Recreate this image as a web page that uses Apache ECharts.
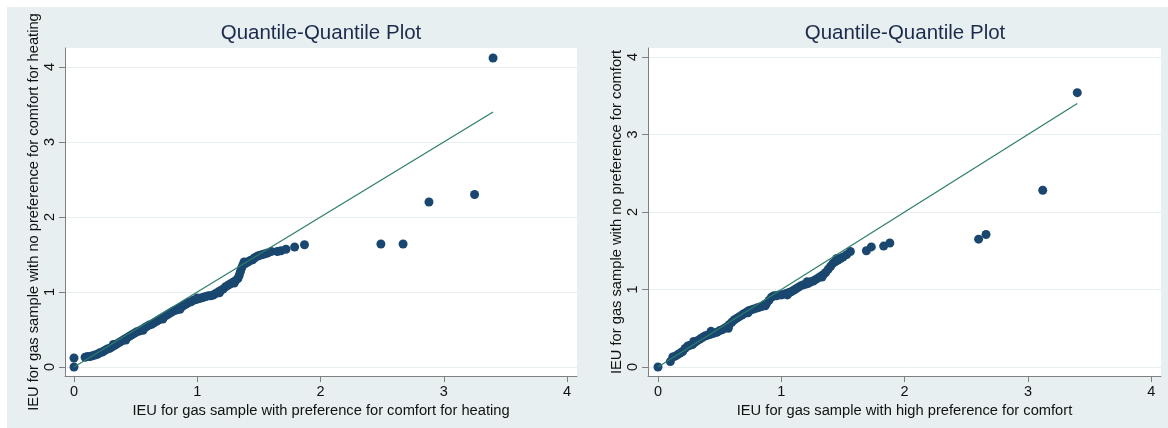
<!DOCTYPE html>
<html><head><meta charset="utf-8">
<script src="https://cdn.jsdelivr.net/npm/echarts@6/dist/echarts.min.js"></script>
<style>html,body{margin:0;padding:0;background:#fff}#c{width:1168px;height:428px}</style>
</head><body><div id="c"></div>
<script>
// ---- data ----
const tickValues = [0, 1, 2, 3, 4];
const titleText = 'Quantile-Quantile Plot';
const leftXName = 'IEU for gas sample with preference for comfort for heating';
const leftYName = 'IEU for gas sample with no preference for comfort for heating';
const rightXName = 'IEU for gas sample with high preference for comfort';
const rightYName = 'IEU for gas sample with no preference for comfort';

const leftPoints = [
  [0,0],[0,0.12],[0.09,0.13],[0.11,0.14],[0.13,0.14],[0.15,0.15],[0.17,0.16],[0.19,0.17],
  [0.21,0.19],[0.23,0.2],[0.25,0.22],[0.27,0.24],[0.29,0.25],[0.31,0.27],[0.33,0.29],[0.35,0.31],
  [0.37,0.33],[0.39,0.35],[0.41,0.37],[0.43,0.39],[0.45,0.41],[0.47,0.43],[0.49,0.45],[0.51,0.47],
  [0.53,0.48],[0.55,0.5],[0.57,0.52],[0.59,0.54],[0.61,0.56],[0.63,0.57],[0.65,0.59],[0.67,0.61],
  [0.69,0.63],[0.71,0.65],[0.73,0.67],[0.75,0.69],[0.77,0.71],[0.79,0.73],[0.81,0.75],[0.83,0.76],
  [0.85,0.78],[0.87,0.8],[0.89,0.82],[0.91,0.84],[0.93,0.86],[0.95,0.87],[0.97,0.89],[0.99,0.9],
  [1.01,0.91],[1.03,0.92],[1.05,0.93],[1.07,0.94],[1.09,0.95],[1.11,0.95],[1.13,0.96],[1.15,0.98],
  [1.17,1.0],[1.19,1.02],[1.21,1.04],[1.23,1.07],[1.25,1.09],[1.27,1.11],[1.29,1.13],[1.31,1.15],
  [1.33,1.18],[1.34,1.22],[1.35,1.27],[1.36,1.32],[1.37,1.36],[1.39,1.38],[1.41,1.4],[1.43,1.42],
  [1.45,1.43],[1.47,1.46],[1.49,1.48],[1.51,1.49],[1.53,1.5],[1.55,1.51],[1.57,1.52],[1.6,1.54],
  [1.65,1.54],[1.68,1.55],[1.72,1.57],[1.79,1.6],[1.87,1.63],
  [2.49,1.64],[2.67,1.64],[2.88,2.2],[3.25,2.3],[3.4,4.12],
  [0.32,0.3],[0.42,0.36],[0.56,0.49],[0.72,0.64],[0.86,0.77],[1.0,0.92],[1.18,0.99],[1.3,1.12],
  [1.38,1.4],[1.46,1.45]
];
const rightPoints = [
  [0,0],[0.1,0.07],[0.12,0.13],[0.14,0.14],[0.16,0.16],[0.18,0.18],[0.2,0.2],[0.22,0.24],
  [0.24,0.27],[0.26,0.28],[0.28,0.29],[0.3,0.32],[0.32,0.34],[0.34,0.36],[0.36,0.38],[0.38,0.4],
  [0.4,0.41],[0.42,0.42],[0.44,0.43],[0.46,0.44],[0.48,0.45],[0.5,0.47],[0.52,0.48],[0.54,0.5],
  [0.56,0.52],[0.58,0.55],[0.6,0.58],[0.62,0.61],[0.64,0.63],[0.66,0.65],[0.68,0.67],[0.7,0.69],
  [0.72,0.71],[0.74,0.73],[0.76,0.74],[0.78,0.75],[0.8,0.76],[0.82,0.77],[0.84,0.78],[0.86,0.8],
  [0.88,0.82],[0.9,0.86],[0.92,0.9],[0.94,0.92],[0.96,0.92],[0.98,0.93],[1.0,0.93],[1.02,0.94],
  [1.04,0.95],[1.06,0.96],[1.08,0.97],[1.1,0.99],[1.12,1.01],[1.14,1.03],[1.16,1.05],[1.18,1.06],
  [1.2,1.07],[1.22,1.08],[1.24,1.1],[1.26,1.11],[1.28,1.13],[1.3,1.15],[1.32,1.17],[1.34,1.19],
  [1.36,1.22],[1.38,1.26],[1.4,1.3],[1.42,1.34],[1.44,1.36],[1.46,1.38],[1.48,1.4],[1.5,1.42],
  [1.53,1.45],[1.56,1.49],[1.69,1.5],[1.73,1.55],[1.83,1.56],[1.88,1.6],
  [2.6,1.65],[2.66,1.71],[3.12,2.28],[3.4,3.54],
  [0.29,0.33],[0.43,0.46],[0.57,0.5],[0.73,0.7],[0.87,0.79],[1.05,0.93],[1.21,1.1],[1.33,1.16],
  [1.45,1.4]
];
const leftRefLine = [[0,0],[3.4,3.4]];
const rightRefLine = [[0,0],[3.4,3.4]];

// ---- styling ----
const FONT = "'Liberation Sans', Arial, Helvetica, sans-serif";
const BG = '#e7eff1';
const DOT = '#1a476f';
const LINE = '#2e7d6b';
const AXIS = '#808080';
const GRIDC = '#e6eef0';
const NAMESIZE = 14.7;
const TICKSIZE = 14.5;

function xAxisCfg(gridIndex, min, max, name) {
  return {
    type: 'value', gridIndex, min, max, name, nameLocation: 'middle', nameGap: 22,
    nameTextStyle: { fontFamily: FONT, fontSize: NAMESIZE, color: '#111' },
    axisLine: { show: true, onZero: false, lineStyle: { color: AXIS, width: 1 } },
    axisTick: { show: true, length: 6, customValues: tickValues, lineStyle: { color: AXIS } },
    axisLabel: { customValues: tickValues, margin: 8, fontFamily: FONT, fontSize: TICKSIZE, color: '#111' },
    splitLine: { show: false }
  };
}
function yAxisCfg(gridIndex, min, max, name) {
  return {
    type: 'value', gridIndex, min, max, name, nameLocation: 'middle', nameGap: 24,
    nameTextStyle: { fontFamily: FONT, fontSize: NAMESIZE, color: '#111' },
    axisLine: { show: true, onZero: false, lineStyle: { color: AXIS, width: 1 } },
    axisTick: { show: true, length: 6, customValues: tickValues, lineStyle: { color: AXIS } },
    axisLabel: { customValues: tickValues, rotate: 90, margin: 8, fontFamily: FONT, fontSize: TICKSIZE, color: '#111' },
    splitLine: { show: true, lineStyle: { color: GRIDC, width: 1 } }
  };
}

const chart = echarts.init(document.getElementById('c'), null, { renderer: 'canvas' });
chart.setOption({
  animation: false,
  backgroundColor: BG,
  graphic: [
    { type: 'rect', shape: { x: 0, y: 0, width: 1168, height: 7 }, style: { fill: '#fff' }, silent: true },
    { type: 'rect', shape: { x: 0, y: 0, width: 7, height: 428 }, style: { fill: '#fff' }, silent: true }
  ],
  title: [
    { text: titleText, left: 321, top: 23, padding: 0, textAlign: 'center',
      textStyle: { fontFamily: FONT, fontSize: 20.5, fontWeight: 'normal', color: '#1c2b4b' } },
    { text: titleText, left: 905, top: 23, padding: 0, textAlign: 'center',
      textStyle: { fontFamily: FONT, fontSize: 20.5, fontWeight: 'normal', color: '#1c2b4b' } }
  ],
  grid: [
    { left: 65, top: 48, width: 512, height: 328, show: true, backgroundColor: '#fff', borderWidth: 0 },
    { left: 648, top: 48, width: 513, height: 328, show: true, backgroundColor: '#fff', borderWidth: 0 }
  ],
  xAxis: [
    xAxisCfg(0, -0.073, 4.081, leftXName),
    xAxisCfg(1, -0.081, 4.079, rightXName)
  ],
  yAxis: [
    yAxisCfg(0, -0.12, 4.253, leftYName),
    yAxisCfg(1, -0.116, 4.116, rightYName)
  ],
  series: [
    { type: 'scatter', xAxisIndex: 0, yAxisIndex: 0, data: leftPoints, symbolSize: 9,
      itemStyle: { color: DOT, opacity: 1 }, z: 2 },
    { type: 'line', xAxisIndex: 0, yAxisIndex: 0, data: leftRefLine, showSymbol: false, symbol: 'none',
      lineStyle: { color: LINE, width: 1.2 }, z: 3 },
    { type: 'scatter', xAxisIndex: 1, yAxisIndex: 1, data: rightPoints, symbolSize: 9,
      itemStyle: { color: DOT, opacity: 1 }, z: 2 },
    { type: 'line', xAxisIndex: 1, yAxisIndex: 1, data: rightRefLine, showSymbol: false, symbol: 'none',
      lineStyle: { color: LINE, width: 1.2 }, z: 3 }
  ]
});
</script>
</body></html>
